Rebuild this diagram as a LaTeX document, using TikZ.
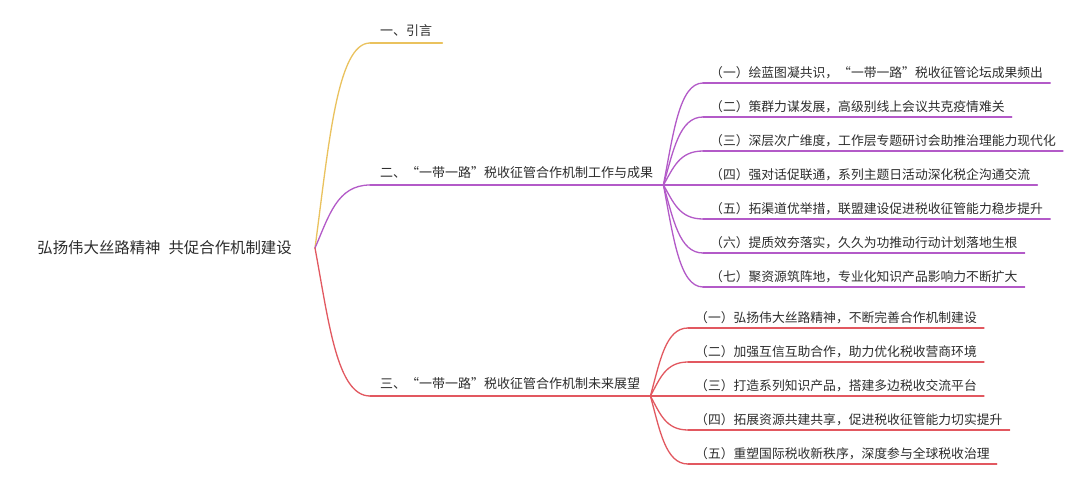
\documentclass[tikz,border=0pt]{standalone}
\usepackage{fontspec}
\setmainfont{Noto Sans CJK SC}
\usetikzlibrary{calc}
\definecolor{mapGold}{RGB}{234,194,94}
\definecolor{mapPurple}{RGB}{179,90,200}
\definecolor{mapRed}{RGB}{226,88,96}
\definecolor{mapText}{RGB}{45,45,45}

\tikzset{
	branch/.style={to path={let \p1=(\tikztostart), \p2=(\tikztotarget) in
		.. controls ({0.75*(\x1)+0.25*(\x2)},{0.5*(\y1)+0.5*(\y2)}) and ({0.6*(\x1)+0.4*(\x2)},\y2) .. (\tikztotarget)}},
	rootnode/.style={anchor=east, inner xsep=23pt, text=mapText, font=\fontsize{15.4pt}{18pt}\selectfont},
	secnode/.style={anchor=south west, inner xsep=10pt, inner ysep=5pt, text height=10pt, text depth=2pt, text=mapText, font=\fontsize{13pt}{15pt}\selectfont},
	leafnode/.style={anchor=south west, inner xsep=7pt, inner ysep=3pt, text height=9.5pt, text depth=2pt, text=mapText, font=\fontsize{12.8pt}{15pt}\selectfont},
	mapline/.style={line width=1.3pt, line cap=round}
}

\begin{document}
\begin{tikzpicture}[x=1pt, y=-1pt]
			\path[use as bounding box, fill=white] (0,0) rectangle (1080,481);

			\draw (315,248) node[rootnode] (root) {弘扬伟大丝路精神\hspace{8pt}共促合作机制建设};

			\draw (370,43) node[secnode] (s1) {一、引言};
			\draw (370,185) node[secnode] (s2) {二、“一带一路”税收征管合作机制工作与成果};
			\draw (370,396) node[secnode] (s3) {三、“一带一路”税收征管合作机制未来展望};

			% 工作与成果
			\draw (703,83) node[leafnode] (p1) {（一）绘蓝图凝共识，“一带一路”税收征管论坛成果频出};
			\draw (703,117) node[leafnode] (p2) {（二）策群力谋发展，高级别线上会议共克疫情难关};
			\draw (703,151) node[leafnode] (p3) {（三）深层次广维度，工作层专题研讨会助推治理能力现代化};
			\draw (703,185) node[leafnode] (p4) {（四）强对话促联通，系列主题日活动深化税企沟通交流};
			\draw (703,219) node[leafnode] (p5) {（五）拓渠道优举措，联盟建设促进税收征管能力稳步提升};
			\draw (703,253) node[leafnode] (p6) {（六）提质效夯落实，久久为功推动行动计划落地生根};
			\draw (703,287) node[leafnode] (p7) {（七）聚资源筑阵地，专业化知识产品影响力不断扩大};

			% 未来展望
			\draw (688,328) node[leafnode] (r1) {（一）弘扬伟大丝路精神，不断完善合作机制建设};
			\draw (688,362) node[leafnode] (r2) {（二）加强互信互助合作，助力优化税收营商环境};
			\draw (688,396) node[leafnode] (r3) {（三）打造系列知识产品，搭建多边税收交流平台};
			\draw (688,430) node[leafnode] (r4) {（四）拓展资源共建共享，促进税收征管能力切实提升};
			\draw (688,464) node[leafnode] (r5) {（五）重塑国际税收新秩序，深度参与全球税收治理};

			\path[mapline, mapGold]
			(root.east) edge[branch] (s1.south west)
			(s1.south west) edge (s1.south east)
			;
			\path[mapline, mapPurple]
			(root.east) edge[branch] (s2.south west)
			(s2.south west) edge (s2.south east)
			(s2.south east) edge[branch] (p1.south west)
			(s2.south east) edge[branch] (p2.south west)
			(s2.south east) edge[branch] (p3.south west)
			(s2.south east) edge[branch] (p4.south west)
			(s2.south east) edge[branch] (p5.south west)
			(s2.south east) edge[branch] (p6.south west)
			(s2.south east) edge[branch] (p7.south west)
			(p1.south west) edge (p1.south east)
			(p2.south west) edge (p2.south east)
			(p3.south west) edge (p3.south east)
			(p4.south west) edge (p4.south east)
			(p5.south west) edge (p5.south east)
			(p6.south west) edge (p6.south east)
			(p7.south west) edge (p7.south east)
			;
			\path[mapline, mapRed]
			(root.east) edge[branch] (s3.south west)
			(s3.south west) edge (s3.south east)
			(s3.south east) edge[branch] (r1.south west)
			(s3.south east) edge[branch] (r2.south west)
			(s3.south east) edge[branch] (r3.south west)
			(s3.south east) edge[branch] (r4.south west)
			(s3.south east) edge[branch] (r5.south west)
			(r1.south west) edge (r1.south east)
			(r2.south west) edge (r2.south east)
			(r3.south west) edge (r3.south east)
			(r4.south west) edge (r4.south east)
			(r5.south west) edge (r5.south east)
			;
		\end{tikzpicture}
\end{document}
